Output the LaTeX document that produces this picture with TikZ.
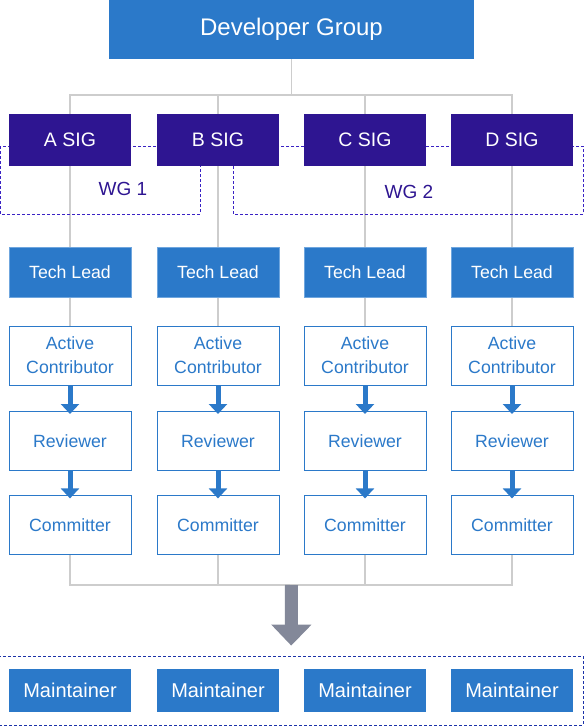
\documentclass[tikz,border=0pt]{standalone}
\usepackage{fontspec}
\setmainfont{Liberation Sans}
\usepackage{tikz}
\usetikzlibrary{arrows.meta}
\usetikzlibrary{backgrounds}
\usetikzlibrary{fit}
\usetikzlibrary{positioning}

\definecolor{DevBlue}{HTML}{2B79C9}
\definecolor{LeadEdge}{HTML}{6FA6DE}
\definecolor{SigPurple}{HTML}{2E1591}
\definecolor{WgLine}{HTML}{3A22C4}
\definecolor{MntLine}{HTML}{1C32A8}
\definecolor{TreeGrey}{HTML}{CDCDCD}
\definecolor{ArrowGrey}{HTML}{838899}

\begin{document}
\begin{tikzpicture}
  [
    x = 1pt, y = -1pt,
    node distance = 26pt and 26pt,
    box/.style = {minimum width = 122pt, inner sep = 0pt, align = center,
                  font = \fontsize{17.7}{24}\selectfont},
    dev/.style = {box, fill = DevBlue, text = white, minimum width = 365pt,
                  minimum height = 59pt, font = \fontsize{24}{28}\selectfont},
    sig/.style = {box, fill = SigPurple, text = white, minimum height = 52pt,
                  font = \fontsize{19.5}{23}\selectfont},
    lead/.style = {box, fill = DevBlue, draw = LeadEdge, text = white, minimum height = 50pt},
    role/.style = {box, fill = white, draw = DevBlue, text = DevBlue, minimum height = 59pt},
    maint/.style = {box, fill = DevBlue, text = white, minimum height = 43pt,
                  font = \fontsize{20}{24}\selectfont},
    wg/.style = {draw = WgLine, dash pattern = on 3pt off 2pt},
    wglabel/.style = {text = SigPurple, inner sep = 0pt, font = \fontsize{19}{23}\selectfont},
    group/.style = {draw = MntLine, dash pattern = on 3pt off 2pt,
                  inner xsep = 9.5pt, inner ysep = 13pt},
    tree/.style = {draw = TreeGrey, line width = 1.2pt},
    flow/.style = {draw = DevBlue, line width = 5pt, shorten > = -3pt,
                  -{Triangle[length = 10pt, width = 18pt]}},
    merge/.style = {draw = ArrowGrey, line width = 13pt, shorten > = 10pt,
                  -{Triangle[length = 21pt, width = 39pt]}},
  ]
  \useasboundingbox (0,0) rectangle (584,726);

  \node[dev] (dev) at (291.5,29.5) {Developer Group};

  \node[sig] (sig_a) at (70,140) {A SIG};
  \node[sig] (sig_b) at (218,140) {B SIG};
  \node[sig] (sig_c) at (365,140) {C SIG};
  \node[sig] (sig_d) at (512,140) {D SIG};

  \node[wglabel] (wg_one) at (123,189) {WG 1};
  \node[wglabel] (wg_two) at (409,192) {WG 2};

  \node[lead] [below = 81pt of sig_a] (lead_a) {Tech Lead};
  \node[lead] [below = 81pt of sig_b] (lead_b) {Tech Lead};
  \node[lead] [below = 81pt of sig_c] (lead_c) {Tech Lead};
  \node[lead] [below = 81pt of sig_d] (lead_d) {Tech Lead};

  \node[role] [below = 28pt of lead_a] (ac_a) {Active\\Contributor};
  \node[role] [below = 28pt of lead_b] (ac_b) {Active\\Contributor};
  \node[role] [below = 28pt of lead_c] (ac_c) {Active\\Contributor};
  \node[role] [below = 28pt of lead_d] (ac_d) {Active\\Contributor};

  \node[role] [below = of ac_a] (rev_a) {Reviewer};
  \node[role] [below = of ac_b] (rev_b) {Reviewer};
  \node[role] [below = of ac_c] (rev_c) {Reviewer};
  \node[role] [below = of ac_d] (rev_d) {Reviewer};

  \node[role] [below = 25pt of rev_a] (com_a) {Committer};
  \node[role] [below = 25pt of rev_b] (com_b) {Committer};
  \node[role] [below = 25pt of rev_c] (com_c) {Committer};
  \node[role] [below = 25pt of rev_d] (com_d) {Committer};

  \draw[flow] (ac_a) -- (rev_a);
  \draw[flow] (ac_b) -- (rev_b);
  \draw[flow] (ac_c) -- (rev_c);
  \draw[flow] (ac_d) -- (rev_d);
  \draw[flow] (rev_a) -- (com_a);
  \draw[flow] (rev_b) -- (com_b);
  \draw[flow] (rev_c) -- (com_c);
  \draw[flow] (rev_d) -- (com_d);

  \node[maint] (mnt_a) at (70,690.5) {Maintainer};
  \node[maint] (mnt_b) at (218,690.5) {Maintainer};
  \node[maint] (mnt_c) at (365,690.5) {Maintainer};
  \node[maint] (mnt_d) at (512,690.5) {Maintainer};
  \node[group, fit = (mnt_a) (mnt_d)] (mnt_group) {};

  \begin{scope}[on background layer]
    \coordinate (bus_top) at (291.5,95);
    \coordinate (bus_bot) at (291.5,585);
    \draw[tree] (dev) -- (bus_top);
    \draw[tree] (sig_a) |- (bus_top) -| (sig_d);
    \draw[tree] (sig_b) -- (sig_b |- bus_top);
    \draw[tree] (sig_c) -- (sig_c |- bus_top);
    \draw[tree] (sig_a) -- (ac_a);
    \draw[tree] (sig_b) -- (ac_b);
    \draw[tree] (sig_c) -- (ac_c);
    \draw[tree] (sig_d) -- (ac_d);
    \draw[tree] (com_a) |- (bus_bot) -| (com_d);
    \draw[tree] (com_b) -- (com_b |- bus_bot);
    \draw[tree] (com_c) -- (com_c |- bus_bot);
    \draw[wg] (0,146) rectangle (200,214);
    \draw[wg] (233,146) rectangle (583,214);
  \end{scope}

  \draw[merge] (bus_bot) -- (mnt_group);
\end{tikzpicture}
\end{document}
